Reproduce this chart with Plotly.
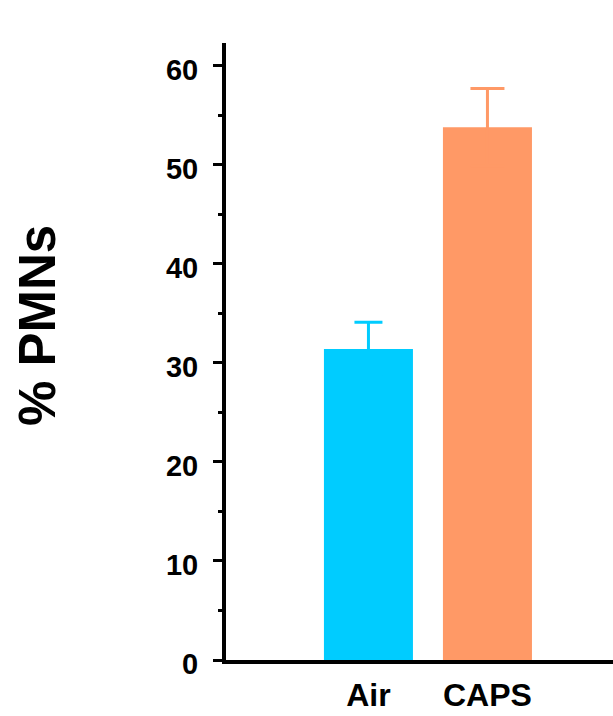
import plotly.graph_objects as go

# Percent PMNs by exposure group, mean with SEM
groups = ["Air", "CAPS"]
pmn_mean = [31.4, 53.8]
pmn_err = [2.7, 3.9]
bar_colors = ["#00CCFF", "#FF9966"]
cap_half_width = [14, 17]

y_ticks = [0, 10, 20, 30, 40, 50, 60]

FONT = "Arial, Liberation Sans, sans-serif"

fig = go.Figure()
for i, g in enumerate(groups):
    # the error bar shares the bar colour, so its lower half blends into the bar
    fig.add_trace(
        go.Bar(
            x=[i],
            y=[pmn_mean[i]],
            name=g,
            width=0.748,
            marker=dict(color=bar_colors[i], line=dict(width=0)),
            error_y=dict(
                type="data",
                array=[pmn_err[i]],
                thickness=3,
                width=cap_half_width[i],
                color=bar_colors[i],
            ),
            showlegend=False,
        )
    )

fig.update_layout(
    width=613,
    height=716,
    margin=dict(l=226, r=0, t=43, b=56, autoexpand=False),
    plot_bgcolor="white",
    paper_bgcolor="white",
    font=dict(family=FONT, color="black"),
    barmode="overlay",
    xaxis=dict(
        range=[-1.197, 2.055],
        tickvals=[0, 1],
        ticktext=groups,
        showgrid=False,
        zeroline=False,
        showline=True,
        linecolor="black",
        linewidth=4,
        ticks="",
        tickfont=dict(size=32, family=FONT, weight="bold"),
        ticklabelstandoff=4,
        automargin=False,
    ),
    yaxis=dict(
        range=[0, 62.3],
        tickvals=y_ticks,
        showgrid=False,
        zeroline=False,
        showline=True,
        linecolor="black",
        linewidth=4,
        ticks="outside",
        ticklen=9,
        tickwidth=3,
        tickcolor="black",
        minor=dict(dtick=5, ticks="outside", ticklen=4, tickwidth=3, tickcolor="black"),
        tickfont=dict(size=29, family=FONT, weight="bold"),
        ticklabelstandoff=9,
        ticklabelshift=4,
        automargin=False,
    ),
    annotations=[
        dict(
            text="% PMNs",
            xref="paper",
            yref="paper",
            x=0,
            xanchor="center",
            yanchor="middle",
            y=(660 - 326) / 617,
            xshift=-189,
            textangle=-90,
            showarrow=False,
            font=dict(size=51, family=FONT, weight="bold", color="black"),
        )
    ],
)

fig.write_html("out.html")
